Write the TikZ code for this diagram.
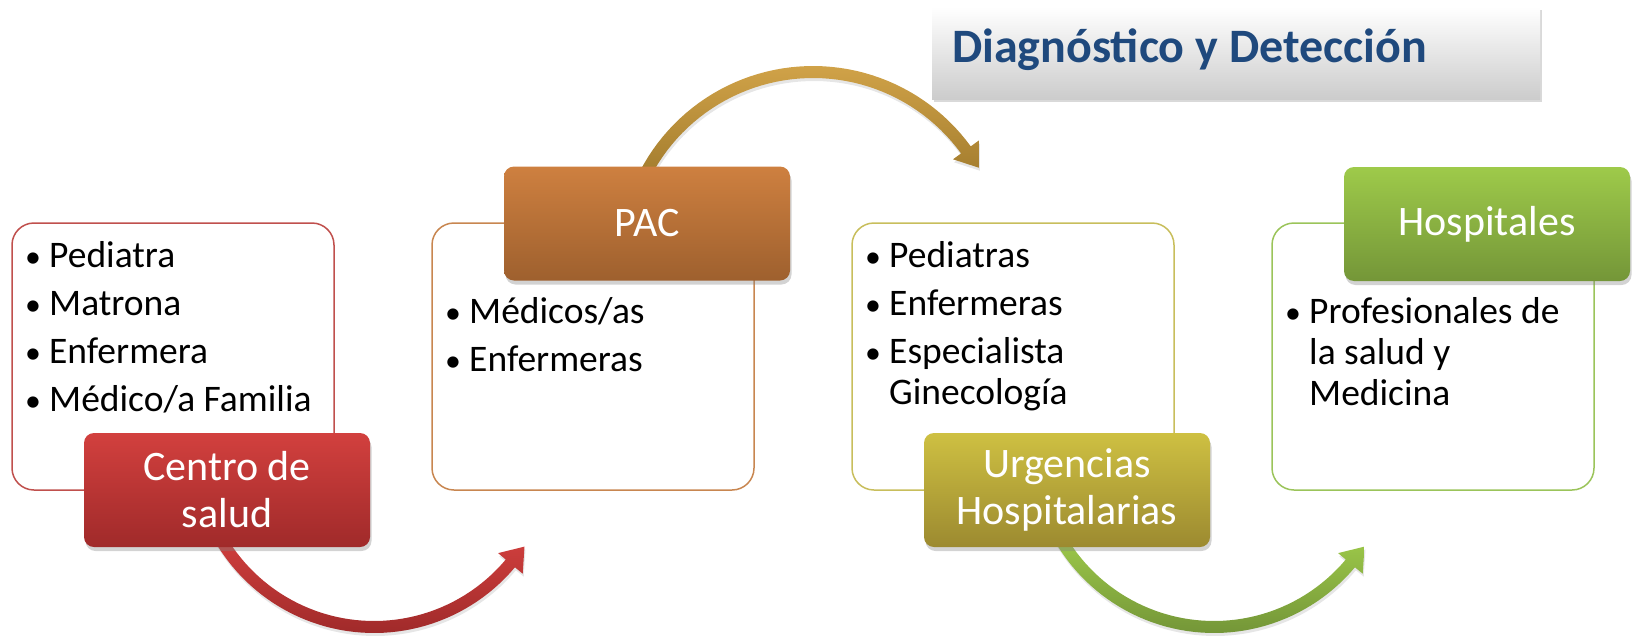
\documentclass[tikz,border=0pt]{standalone}
\usepackage{fontspec}
\setmainfont{Carlito}
\usetikzlibrary{shadows}
\definecolor{redB}{RGB}{192,80,77}
\definecolor{redT}{RGB}{210,64,62}
\definecolor{redD}{RGB}{160,42,42}
\definecolor{orgB}{RGB}{200,134,80}
\definecolor{orgT}{RGB}{206,128,64}
\definecolor{orgD}{RGB}{158,96,46}
\definecolor{oliB}{RGB}{200,190,92}
\definecolor{oliT}{RGB}{206,192,66}
\definecolor{oliD}{RGB}{156,138,48}
\definecolor{grnB}{RGB}{155,196,90}
\definecolor{grnT}{RGB}{158,202,74}
\definecolor{grnD}{RGB}{116,150,56}
\definecolor{goldT}{RGB}{208,162,72}
\definecolor{goldD}{RGB}{160,122,44}
\definecolor{titleblue}{RGB}{31,73,125}
\begin{document}
\begin{tikzpicture}[x=1pt,y=-1pt,
  outerbox/.style={draw, line width=1.5pt, rounded corners=22pt, fill=white,
    minimum width=322pt, minimum height=267pt, inner sep=0pt},
  labelbox/.style={rounded corners=10pt, minimum width=286pt, minimum height=114pt,
    inner sep=0pt, text=white, align=center, font=\fontsize{42}{47}\selectfont,
    drop shadow={shadow xshift=1.5pt,shadow yshift=-4pt,opacity=0.35}},
  listtxt/.style={anchor=base west, inner sep=0pt, font=\fontsize{37.5}{48}\selectfont, text=black},
  arrowshade/.style={drop shadow={shadow xshift=1pt,shadow yshift=-3pt,opacity=0.2}}
]
\useasboundingbox (0,0) rectangle (1639,643);

% arrows (under the boxes)
\path[arrowshade, top color=redT, bottom color=redD]
  plot[domain=150:40,samples=50] ({374+184*cos(\x)},{449+184*sin(\x)})
  -- (522.7,573.7) -- (524.5,546.6) -- (498.1,553.1)
  -- plot[domain=40:150,samples=50] ({374+172*cos(\x)},{449+172*sin(\x)}) -- cycle;
\path[arrowshade, top color=grnT, bottom color=grnD]
  plot[domain=150:40,samples=50] ({1214+184*cos(\x)},{449+184*sin(\x)})
  -- (1362.7,573.7) -- (1364.5,546.6) -- (1338.1,553.1)
  -- plot[domain=40:150,samples=50] ({1214+172*cos(\x)},{449+172*sin(\x)}) -- cycle;
\path[arrowshade, top color=goldT, bottom color=goldD]
  plot[domain=-155:-36,samples=50] ({813+195*cos(\x)},{261+195*sin(\x)})
  -- (978.8,140.5) -- (978.8,167.7) -- (953,159.3)
  -- plot[domain=-36:-155,samples=50] ({813+183*cos(\x)},{261+183*sin(\x)}) -- cycle;

% title
\node[minimum width=608pt, minimum height=92pt, inner sep=0pt,
  top color=white, bottom color=black!20,
  drop shadow={shadow xshift=2pt,shadow yshift=-3pt,opacity=0.3}] (title) at (1236,53) {};
\node[anchor=base west, inner sep=0pt, text=titleblue,
  font=\fontsize{48}{52}\selectfont\bfseries] (titletext) at (952,62) {Diagnóstico y Detección};

% outer boxes
\node[outerbox, draw=redB] (b1) at (173,356.5) {};
\node[outerbox, draw=orgB] (b2) at (593,356.5) {};
\node[outerbox, draw=oliB] (b3) at (1013,356.5) {};
\node[outerbox, draw=grnB] (b4) at (1433,356.5) {};

% label boxes
\node[labelbox, top color=redT, bottom color=redD] (c1) at (227,490) {Centro de\\salud};
\node[labelbox, top color=orgT, bottom color=orgD] (c2) at (647,223.5) {PAC};
\node[labelbox, top color=oliT, bottom color=oliD] (c3) at (1067,490) {Urgencias\\Hospitalarias};
\node[labelbox, top color=grnT, bottom color=grnD] (c4) at (1487,224) {Hospitales};

% lists
\newcommand{\bul}{\makebox[24pt][l]{\scalebox{0.85}{•}}}
\node[listtxt] (l1) at (25,267) {\begin{tabular}[t]{@{}l@{}}
\bul Pediatra\\ \bul Matrona\\ \bul Enfermera\\ \bul Médico/a Familia\end{tabular}};
\node[listtxt] (l2) at (445,323) {\begin{tabular}[t]{@{}l@{}}
\bul Médicos/as\\ \bul Enfermeras\end{tabular}};
\node[listtxt] (l3) at (865,267) {\begin{tabular}[t]{@{}l@{}}
\bul Pediatras\\ \bul Enfermeras\\ \bul Especialista\\[-7pt] \hspace*{24pt}Ginecología\end{tabular}};
\node[listtxt] (l4) at (1285,323) {\begin{tabular}[t]{@{}l@{}}
\bul Profesionales de\\[-7pt] \hspace*{24pt}la salud y\\[-7pt] \hspace*{24pt}Medicina\end{tabular}};
\end{tikzpicture}
\end{document}
